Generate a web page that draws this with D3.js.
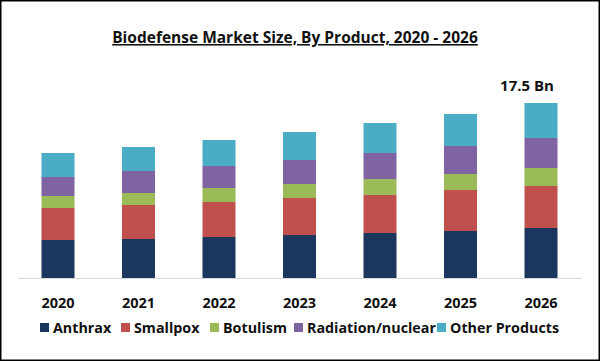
<!DOCTYPE html>
<html>
<head>
<meta charset="utf-8">
<script src="https://cdn.jsdelivr.net/npm/d3@7"></script>
<style>
  body { margin: 0; background: #fff; }
  text { font-family: "Open Sans", "DejaVu Sans", sans-serif; font-weight: bold; fill: #111; }
</style>
</head>
<body>
<svg id="chart" width="600" height="361"></svg>
<script>
// values in Bn USD
const years = ["2020", "2021", "2022", "2023", "2024", "2025", "2026"]
const products = ["Anthrax", "Smallpox", "Botulism", "Radiation/nuclear", "Other Products"]
const anthrax = [3.8, 3.9, 4.1, 4.3, 4.5, 4.7, 5.0]
const smallpox = [3.2, 3.4, 3.5, 3.7, 3.8, 4.1, 4.2]
const botulism = [1.2, 1.2, 1.4, 1.4, 1.6, 1.6, 1.8]
const radiation = [1.9, 2.2, 2.2, 2.4, 2.6, 2.8, 3.0]
const others = [2.4, 2.4, 2.6, 2.8, 3.0, 3.2, 3.5]
const colors = ["#1b375e", "#c0504d", "#9bbb59", "#8064a2", "#4bacc6"]
const endLabel = "17.5 Bn"

const series = [anthrax, smallpox, botulism, radiation, others]
const table = years.map((y, i) => {
  let row = { year: y }
  products.forEach((p, k) => { row[p] = series[k][i] })
  return row
})

const svg = d3.select("#chart")

// frame
svg.append("rect")
  .attr("x", 0.75).attr("y", 0.75)
  .attr("width", 598.5).attr("height", 359.5)
  .attr("fill", "none")
  .attr("stroke", "#000")
  .attr("stroke-width", 1.5)

// title
svg.append("text")
  .attr("x", 295).attr("y", 43)
  .attr("text-anchor", "middle")
  .style("font-size", "15.5px")
  .style("text-decoration", "underline")
  .text("Biodefense Market Size, By Product, 2020 - 2026")

const x = d3.scaleBand()
  .domain(years)
  .range([17.75, 581.25])
  .paddingInner(0.59)
  .paddingOuter(0.295)

const y = d3.scaleLinear()
  .domain([0, 20])
  .range([278, 78])

const stack = d3.stack().keys(products)(table)

svg.append("g")
  .selectAll("g")
  .data(stack)
  .enter()
  .append("g")
  .attr("fill", (d, i) => colors[i])
  .selectAll("rect")
  .data(d => d)
  .enter()
  .append("rect")
  .attr("x", d => x(d.data.year))
  .attr("width", x.bandwidth())
  .attr("y", d => y(d[1]))
  .attr("height", d => y(d[0]) - y(d[1]))

// baseline axis
const axis = svg.append("g")
  .attr("transform", `translate(0, ${y(0)})`)
  .call(d3.axisBottom(x).tickSize(0).tickPadding(20))
axis.select(".domain")
  .attr("d", "M18,0.5H582")
  .attr("stroke", "#d9d9d9")
axis.selectAll("text")
  .style("font-size", "14.5px")
  .style("font-family", "\"Open Sans\", sans-serif")
  .attr("fill", "#111")

// total label on last bar
const lastYear = years[years.length - 1]
const lastTotal = d3.sum(series, s => s[s.length - 1])
svg.append("text")
  .attr("x", x(lastYear) + x.bandwidth() / 2 - 14)
  .attr("y", y(lastTotal) - 12)
  .attr("text-anchor", "middle")
  .style("font-size", "15px")
  .text(endLabel)

// legend
const legendX = [40, 121, 210, 294, 437]
const legend = svg.append("g")
  .selectAll("g")
  .data(products)
  .enter()
  .append("g")
  .attr("transform", (d, i) => `translate(${legendX[i]}, 322)`)
legend.append("rect")
  .attr("width", 9).attr("height", 9)
  .attr("y", 1)
  .attr("fill", (d, i) => colors[i])
legend.append("text")
  .attr("x", 13).attr("y", 10.5)
  .style("font-size", "14.3px")
  .text(d => d)
</script>
</body>
</html>
